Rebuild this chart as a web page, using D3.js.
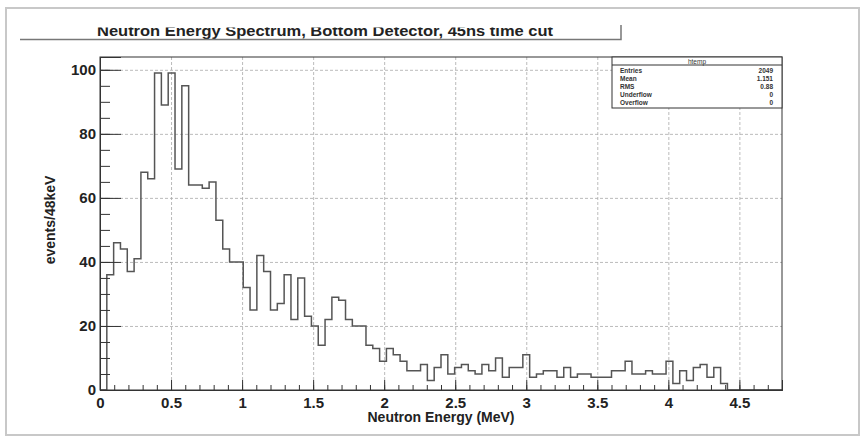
<!DOCTYPE html>
<html>
<head>
<meta charset="utf-8">
<script src="https://cdn.jsdelivr.net/npm/d3@7"></script>
<style>
  body { margin: 0; background: #fff; }
  text { font-family: "Liberation Sans", Arial, sans-serif; }
  .grid line { stroke: #aaa; stroke-dasharray: 3,2; stroke-width: 0.8; }
  .grid path { display: none; }
  .axis path, .axis line { stroke: #333; stroke-width: 1; }
  .axis text { font-size: 15px; font-weight: bold; fill: #222; }
</style>
</head>
<body>
<div id="chart"></div>
<script>
// histogram: 100 bins of 48 keV from 0 to 4.8 MeV, counts
const binWidth = 0.048;
const counts = [
    0, 36, 46, 44, 37, 41, 68, 66, 99, 89,
    99, 69, 95, 64, 64, 63, 65, 53, 44, 40,
    40, 32, 25, 42, 37, 25, 27, 36, 22, 35,
    23, 20, 14, 22, 29, 28, 22, 20, 20, 14,
    13, 9, 13, 11, 9, 6, 6, 8, 3, 7,
    11, 5, 7, 8, 6, 5, 8, 6, 10, 4,
    7, 7, 11, 4, 5, 6, 6, 4, 7, 4,
    5, 5, 4, 4, 4, 6, 6, 9, 5, 5,
    6, 5, 5, 9, 2, 6, 3, 7, 8, 4,
    7, 2, 0, 0, 0, 0, 0, 0, 0, 0
];
const xMajor = [0, 0.5, 1, 1.5, 2, 2.5, 3, 3.5, 4, 4.5];
const yMajor = [0, 20, 40, 60, 80, 100];
const statNames = ['Entries', 'Mean', 'RMS', 'Underflow', 'Overflow'];
const statValues = ['2049', '1.151', '0.88', '0', '0'];

const W = 865, H = 439;
const margin = {top: 57, left: 100, right: 83, bottom: 49};
const width = W - margin.left - margin.right,
    height = H - margin.top - margin.bottom;

const svg = d3.select('#chart').append('svg')
    .attr('width', W).attr('height', H);

// outer canvas border
svg.append('rect')
    .attr('x', 6).attr('y', 8).attr('width', 853).attr('height', 427)
    .attr('fill', 'none').attr('stroke', '#c8c8c8').attr('stroke-width', 2);

// title pave, top part cut off like in the picture
svg.append('clipPath').attr('id', 'titleClip')
    .append('rect').attr('x', 0).attr('y', 27.5).attr('width', W).attr('height', 20);
svg.append('text')
    .attr('clip-path', 'url(#titleClip)')
    .attr('x', 97).attr('y', 36)
    .attr('textLength', 456).attr('lengthAdjust', 'spacingAndGlyphs')
    .style('font-size', '15px').style('font-weight', 'bold').style('fill', '#222')
    .text('Neutron Energy Spectrum, Bottom Detector, 45ns time cut');
svg.append('path')
    .attr('d', 'M20,39.5H621V25')
    .attr('fill', 'none').attr('stroke', '#777').attr('stroke-width', 1.5);

const x = d3.scaleLinear().domain([0, 4.8]).range([0, width]);
const y = d3.scaleLinear().domain([0, 104]).range([height, 0]);

const g = svg.append('g')
    .attr('transform', 'translate(' + margin.left + ',' + margin.top + ')');

// dashed grid
g.append('g').attr('class', 'grid')
    .attr('transform', 'translate(0,' + height + ')')
    .call(d3.axisBottom(x).tickValues(xMajor.slice(1)).tickSize(-height).tickFormat(''));
g.append('g').attr('class', 'grid')
    .call(d3.axisLeft(y).tickValues(yMajor.slice(1)).tickSize(-width).tickFormat(''));

// histogram outline
const pts = [[0, 0]];
counts.forEach((c, i) => {
    pts.push([i * binWidth, c]);
    pts.push([(i + 1) * binWidth, c]);
});
pts.push([counts.length * binWidth, 0]);

g.append('path')
    .datum(pts)
    .attr('fill', 'none')
    .attr('stroke', '#555')
    .attr('stroke-width', 1.5)
    .attr('d', d3.line().x(d => x(d[0])).y(d => y(d[1])));

// frame
g.append('rect')
    .attr('width', width).attr('height', height)
    .attr('fill', 'none').attr('stroke', '#333').attr('stroke-width', 1);

// axes with inward ticks
g.append('g').attr('class', 'axis')
    .attr('transform', 'translate(0,' + height + ')')
    .call(d3.axisBottom(x).tickValues(d3.range(0, 4.81, 0.1)).tickSize(-5).tickFormat(''));
g.append('g').attr('class', 'axis')
    .attr('transform', 'translate(0,' + height + ')')
    .call(d3.axisBottom(x).tickValues(xMajor).tickSize(-10).tickPadding(7).tickFormat(d3.format('')));

g.append('g').attr('class', 'axis')
    .call(d3.axisLeft(y).tickValues(d3.range(0, 104, 5)).tickSize(-10).tickFormat(''));
g.append('g').attr('class', 'axis')
    .call(d3.axisLeft(y).tickValues(yMajor).tickSize(-21).tickPadding(4).tickFormat(d3.format('')));

// axis titles
g.append('text')
    .attr('x', width / 2).attr('y', height + 32)
    .attr('text-anchor', 'middle')
    .style('font-size', '14px').style('font-weight', 'bold').style('fill', '#222')
    .text('Neutron Energy (MeV)');
g.append('text')
    .attr('transform', 'rotate(-90)')
    .attr('x', -163).attr('y', -50)
    .attr('text-anchor', 'middle')
    .attr('dy', '0.35em')
    .style('font-size', '14px').style('font-weight', 'bold').style('fill', '#222')
    .text('events/48keV');

// stats box
const sx = 612, sy = 57, sw = 170, sh = 51;
const stats = svg.append('g');
stats.append('rect')
    .attr('x', sx).attr('y', sy).attr('width', sw).attr('height', sh)
    .attr('fill', '#fff').attr('stroke', '#333').attr('stroke-width', 1);
stats.append('line')
    .attr('x1', sx).attr('x2', sx + sw).attr('y1', sy + 8).attr('y2', sy + 8)
    .attr('stroke', '#333');
stats.append('text')
    .attr('x', sx + sw / 2).attr('y', sy + 6.5)
    .attr('text-anchor', 'middle')
    .style('font-size', '6.5px').style('fill', '#333')
    .text('htemp');
statNames.forEach((n, i) => {
    stats.append('text')
        .attr('x', sx + 8).attr('y', sy + 16 + i * 8)
        .style('font-size', '6.5px').style('font-weight', 'bold').style('fill', '#333')
        .text(n);
    stats.append('text')
        .attr('x', sx + sw - 9).attr('y', sy + 16 + i * 8)
        .attr('text-anchor', 'end')
        .style('font-size', '6.5px').style('font-weight', 'bold').style('fill', '#333')
        .text(statValues[i]);
});
</script>
</body>
</html>
